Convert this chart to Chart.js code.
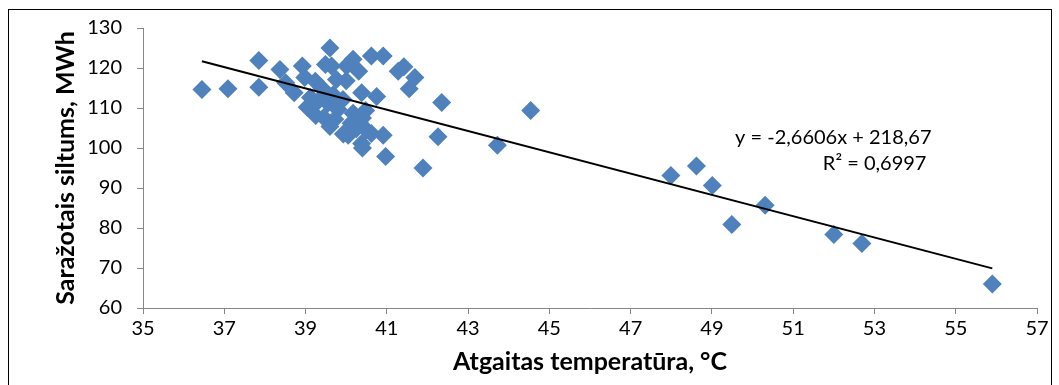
<!DOCTYPE html>
<html>
<head>
<meta charset="utf-8">
<script src="https://cdn.jsdelivr.net/npm/chart.js@4.4.1/dist/chart.umd.min.js"></script>
<style>
html, body { margin: 0; padding: 0; background: #fff; }
</style>
</head>
<body>
<canvas id="chart" width="1059" height="385"></canvas>
<script>
// return temperature (°C) and produced heat (MWh)
const temperature = [
	36.45, 37.09, 37.85, 37.85, 38.37, 38.51, 38.72, 38.92, 38.98, 39.04,
	39.24, 39.25, 39.45, 39.49, 39.60, 39.64, 39.68, 39.55, 39.60, 39.76,
	39.92, 40.01, 40.17, 40.31, 40.38, 40.17, 40.40, 40.05, 40.38, 40.50,
	40.62, 40.91, 40.75, 40.91, 40.97, 41.28, 41.42, 41.69, 41.55, 41.89,
	42.35, 42.26, 43.72, 44.54, 47.99, 48.62, 49.01, 49.49, 50.31, 52.00,
	52.69, 55.90,
	39.30, 39.80, 40.48, 40.40, 39.72, 40.62, 39.12, 39.40, 40.12, 39.93,
	40.25, 39.50, 40.00
]
const heat = [
	114.6, 114.8, 121.9, 115.2, 119.6, 116.3, 113.8, 120.5, 117.6, 110.2,
	116.7, 108.1, 107.6, 120.9, 125.0, 120.5, 113.3, 111.2, 105.4, 117.1,
	112.1, 120.5, 122.2, 119.2, 113.8, 108.7, 107.5, 103.2, 101.1, 104.5,
	123.0, 123.0, 112.9, 103.2, 97.9, 119.2, 120.3, 117.6, 114.8, 95.0,
	111.4, 102.8, 100.7, 109.4, 93.1, 95.5, 90.6, 80.9, 85.7, 78.4,
	76.1, 66.0,
	111.6, 109.6, 109.4, 100.0, 107.2, 103.6, 112.6, 115.0, 106.2, 103.5,
	104.8, 113.0, 116.8
]

// linear trend line end points (y = -2,6606x + 218,67)
const trendX = [36.45, 55.90]
const trendY = [121.7, 69.9]

const equationText = 'y = -2,6606x + 218,67'
const r2Text = 'R² = 0,6997'
const xTitle = 'Atgaitas temperatūra, °C'
const yTitle = 'Saražotais siltums, MWh'

const points = temperature.map((t, i) => ({x: t, y: heat[i]}))
const trend = trendX.map((t, i) => ({x: t, y: trendY[i]}))

const axisGray = '#868686'
const fontName = 'Lato'

const framePlugin = {
	id: 'frame',
	beforeDraw: chart => {
		const ctx = chart.ctx
		ctx.save()
		ctx.fillStyle = '#fff'
		ctx.fillRect(0, 0, chart.width, chart.height)
		ctx.strokeStyle = '#000'
		ctx.lineWidth = 1
		ctx.strokeRect(8.5, 9.5, 1043, 400)
		ctx.restore()
	},
	afterDraw: chart => {
		// trend line label, placed at data coordinates
		const ctx = chart.ctx
		const xs = chart.scales.x, ys = chart.scales.y
		ctx.save()
		ctx.fillStyle = '#000'
		ctx.font = '20px ' + fontName
		ctx.textBaseline = 'middle'
		ctx.textAlign = 'left'
		ctx.fillText(equationText, xs.getPixelForValue(49.57), ys.getPixelForValue(102.7))
		ctx.fillText(r2Text, xs.getPixelForValue(51.73), ys.getPixelForValue(96.2))
		ctx.restore()
	}
}

new Chart(document.getElementById('chart'), {
	type: 'scatter',
	data: {
		datasets: [
			{
				label: 'trend',
				data: trend,
				showLine: true,
				borderColor: '#000',
				borderWidth: 2,
				pointRadius: 0,
				order: 0
			},
			{
				label: 'data',
				data: points,
				pointStyle: 'rectRot',
				pointRadius: 9.5,
				backgroundColor: '#4f81bd',
				borderColor: '#4f81bd',
				borderWidth: 0,
				order: 1
			}
		]
	},
	options: {
		responsive: false,
		animation: false,
		devicePixelRatio: 1,
		layout: { padding: { left: 8, top: 28, right: 22, bottom: 0 } },
		plugins: {
			legend: { display: false },
			tooltip: { enabled: false }
		},
		scales: {
			x: {
				type: 'linear',
				min: 35,
				max: 57,
				afterFit: scale => { scale.height = 77 },
				ticks: { stepSize: 2, color: '#000', font: { family: fontName, size: 20 }, padding: 3 },
				grid: { drawOnChartArea: false, color: axisGray, tickLength: 6 },
				border: { color: axisGray },
				title: {
					display: true,
					text: xTitle,
					color: '#000',
					font: { family: fontName, size: 25, weight: 'bold' },
					padding: { top: 0, bottom: 8 }
				}
			},
			y: {
				type: 'linear',
				min: 60,
				max: 130,
				afterFit: scale => { scale.width = 135 },
				ticks: { stepSize: 10, color: '#000', font: { family: fontName, size: 20 }, padding: 15 },
				grid: { drawOnChartArea: false, color: axisGray, tickLength: 6 },
				border: { color: axisGray },
				title: {
					display: true,
					text: yTitle,
					color: '#000',
					font: { family: fontName, size: 25, weight: 'bold' },
					padding: { top: 43, bottom: 0 }
				}
			}
		}
	},
	plugins: [framePlugin]
})
</script>
</body>
</html>
